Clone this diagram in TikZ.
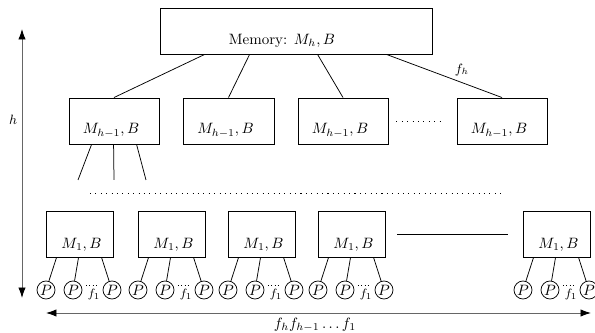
\documentclass[tikz,border=0pt]{standalone}
\usetikzlibrary{arrows.meta,calc}
\begin{document}
\begin{tikzpicture}[x=0.667pt,y=-0.667pt,
  box/.style={draw, rectangle, line width=0.6pt, minimum height=30.7pt, inner sep=0pt},
  proc/.style={draw, circle, line width=0.5pt, minimum size=12pt, inner sep=0pt},
  lbl/.style={anchor=center, inner sep=0pt},
  conn/.style={line width=0.5pt},
  dots/.style={line width=0.6pt, dash pattern=on 0.7pt off 2.9pt},
  dim/.style={draw=black!60, line width=0.6pt, {Latex[black,length=7pt,width=5pt]}-{Latex[black,length=7pt,width=5pt]}}
]
\useasboundingbox (0,0) rectangle (595,333);

% top memory
\node[box, minimum width=181.4pt] (Mem) at (296,31) {};
\node[lbl] (Memt) at ($(Mem.south)+(-14,-14)$) {Memory: $M_h,B$};

% level h-1
\node[box, minimum width=60pt] (H1) at (114,121) {};
\node[box, minimum width=60.7pt] (H2) at (228.5,121) {};
\node[box, minimum width=60pt] (H3) at (343,121) {};
\node[box, minimum width=60pt] (H4) at (502,121) {};
\foreach \n in {H1,H2,H3,H4}{
  \node[lbl] (\n-t) at ($(\n.south)+(-3,-14)$) {$M_{h-1},B$};
}
\draw[conn] ($(Mem.south west)+(45,0)$) -- (H1.north);
\draw[conn] ($(Mem.south west)+(90,0)$) -- (H2.north);
\draw[conn] ($(Mem.south west)+(158,0)$) -- (H3.north);
\draw[conn] ($(Mem.south west)+(227,0)$) -- (H4.north);
\node[font=\small] (fh) at (462,70) {$f_h$};
\draw[dots] ($(H3.east)+(8,0)$) -- ($(H4.west)+(-15,0)$);

% lines below first h-1 box
\coordinate (d1) at (78,180);
\coordinate (d2) at (114,180);
\coordinate (d3) at (146,180);
\draw[conn] ($(H1.south west)+(23,0)$) -- (d1);
\draw[conn] ($(H1.south west)+(45,0)$) -- (d2);
\draw[conn] ($(H1.south west)+(68,0)$) -- (d3);

% long dotted row
\coordinate (r1) at (90,193);
\coordinate (r2) at (505,193);
\draw[dots] (r1) -- (r2);

% level 1
\foreach \n/\l in {A/46,B/138,C/228,D/318,E/523}{
  \node[box, minimum width=44.7pt] (\n) at (\l+33.5,234) {};
  \node[lbl] (\n-t) at ($(\n.south)+(2,-13)$) {$M_1,B$};
  \node[proc] (\n1) at (\l,290) {$P$};
  \node[proc] (\n2) at (\l+27,290) {$P$};
  \node[proc] (\n3) at (\l+66,290) {$P$};
  \draw[conn] ($(\n.south west)+(11,0)$) -- (\n1);
  \draw[conn] ($(\n.south west)+(33,0)$) -- (\n2);
  \draw[conn] ($(\n.south west)+(56,0)$) -- (\n3);
  \coordinate (\n-da) at (\l+40,285);
  \coordinate (\n-db) at (\l+50,285);
  \draw[line width=0.55pt, dash pattern=on 0.6pt off 1.6pt] (\n-da) -- (\n-db);
  \node[font=\footnotesize, inner sep=0pt] (\n-f) at (\l+48,295) {$f_1$};
}
\draw[conn, line width=0.6pt] ($(D.east)+(12,0)$) -- ($(E.west)+(-15,0)$);

% dimension arrows
\coordinate (vt) at (22,29);
\coordinate (vb) at (22,298);
\draw[dim] (vb) -- (vt);
\node[font=\small] (hl) at (13,120) {$h$};
\coordinate (hlft) at (46,313);
\coordinate (hrgt) at (591,313);
\draw[dim] (hlft) -- (hrgt);
\node (bl) at (315,325) {$f_hf_{h-1}\ldots f_1$};
\end{tikzpicture}
\end{document}
